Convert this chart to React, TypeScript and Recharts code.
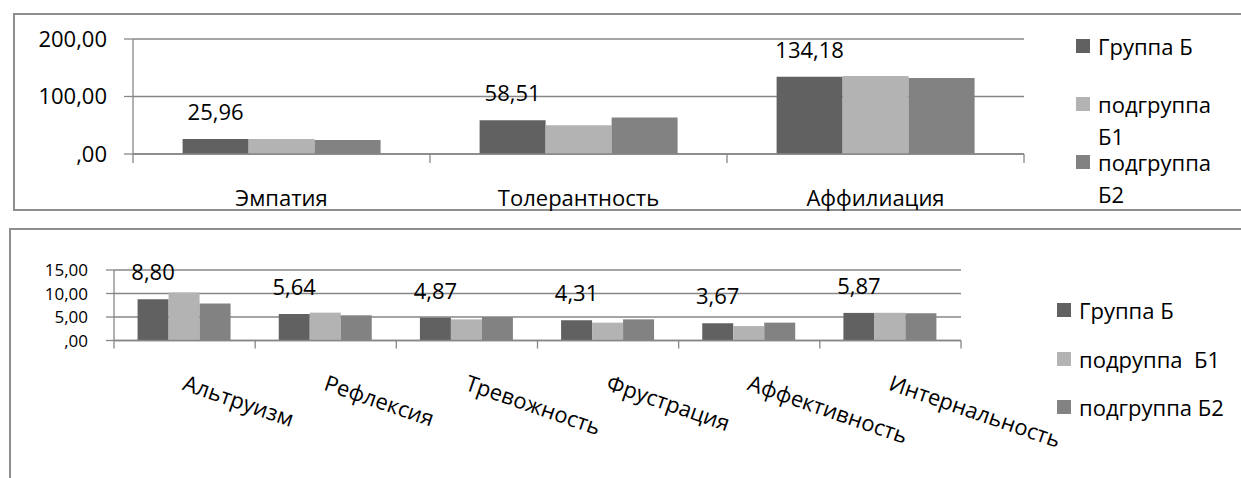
import React from 'react';
import { BarChart, Bar, XAxis, YAxis, CartesianGrid, LabelList, Legend } from 'recharts';

// upper chart
const topCategories = ['Эмпатия', 'Толерантность', 'Аффилиация'];
const topGroupB = [25.96, 58.51, 134.18];
const topSubgroupB1 = [26.2, 50.1, 135.6];
const topSubgroupB2 = [24.5, 63.5, 132.3];
const topSeriesNames = ['Группа Б', 'подгруппа Б1', 'подгруппа Б2'];
const topTicks = [0, 100, 200];

// lower chart
const bottomCategories = ['Альтруизм', 'Рефлексия', 'Тревожность', 'Фрустрация', 'Аффективность', 'Интернальность'];
const bottomGroupB = [8.8, 5.64, 4.87, 4.31, 3.67, 5.87];
const bottomSubgroupB1 = [10.2, 5.93, 4.5, 3.8, 3.07, 5.9];
const bottomSubgroupB2 = [7.86, 5.36, 5.0, 4.5, 3.8, 5.8];
const bottomSeriesNames = ['Группа Б', 'подруппа  Б1', 'подгруппа Б2'];
const bottomTicks = [0, 5, 10, 15];

const SERIES_KEYS = ['b', 'b1', 'b2'];
const COLORS = ['#616161', '#b3b3b3', '#828282'];
const GRID = '#878787';
const FONT = '"Open Sans", sans-serif';
const FS = 22;

const fmt = (v: number) => {
  const s = Number(v).toFixed(2).replace('.', ',');
  return s.startsWith('0,') ? s.slice(1) : s;
};

const topData = topCategories.map((name, i) => ({
  name,
  b: topGroupB[i],
  b1: topSubgroupB1[i],
  b2: topSubgroupB2[i],
}));

const bottomData = bottomCategories.map((name, i) => ({
  name,
  b: bottomGroupB[i],
  b1: bottomSubgroupB1[i],
  b2: bottomSubgroupB2[i],
}));

const W = 1241;
const TOP_H = 215;
const BOTTOM_H = 263;
const topMargin = { top: 39, right: 217, bottom: 0, left: 13 };
const topYWidth = 120;
const bottomMargin = { top: 55, right: 280, bottom: 0, left: 4 };
const bottomYWidth = 110;
const topStep = (W - topMargin.left - topYWidth - topMargin.right) / topCategories.length;
const bottomStep = (W - bottomMargin.left - bottomYWidth - bottomMargin.right) / bottomCategories.length;

const TopTick = (props: any) => {
  const { x, y, payload } = props;
  const half = topStep / 2;
  const last = payload.value === topCategories[topCategories.length - 1];
  return (
    <g>
      <line x1={x - half} y1={y} x2={x - half} y2={y + 9} stroke={GRID} strokeWidth={1.3} />
      {last && <line x1={x + half} y1={y} x2={x + half} y2={y + 9} stroke={GRID} strokeWidth={1.3} />}
      <text x={x} y={y + 52} textAnchor="middle" fontFamily={FONT} fontSize={FS} fill="#000">
        {payload.value}
      </text>
    </g>
  );
};

const BottomTick = (props: any) => {
  const { x, y, payload } = props;
  const half = bottomStep / 2;
  const last = payload.value === bottomCategories[bottomCategories.length - 1];
  return (
    <g>
      <line x1={x - half} y1={y} x2={x - half} y2={y + 8} stroke={GRID} strokeWidth={1.3} />
      {last && <line x1={x + half} y1={y} x2={x + half} y2={y + 8} stroke={GRID} strokeWidth={1.3} />}
      <text
        transform={`translate(${x - 3}, ${y + 49}) rotate(19)`}
        textAnchor="start"
        fontFamily={FONT}
        fontSize={FS}
        fill="#000"
      >
        {payload.value}
      </text>
    </g>
  );
};

// legend keeps the series order, not the alphabetical one
const makeLegend = (itemHeight: number, textWidth: number) => (props: any) => {
  const items = [...(props.payload || [])].sort(
    (a: any, b: any) => SERIES_KEYS.indexOf(a.dataKey) - SERIES_KEYS.indexOf(b.dataKey)
  );
  return (
    <div style={{ fontFamily: FONT, fontSize: FS, lineHeight: '32px', color: '#000' }}>
      {items.map((p: any) => (
        <div key={p.dataKey} style={{ height: itemHeight, display: 'flex', alignItems: 'flex-start' }}>
          <span style={{ width: 14, height: 14, background: p.color, marginTop: 9, marginRight: 8, flex: 'none' }} />
          <span style={{ width: textWidth, whiteSpace: 'pre-wrap' }}>{p.value}</span>
        </div>
      ))}
    </div>
  );
};

const TopLegend = makeLegend(58, 130);
const BottomLegend = makeLegend(48.5, 180);

export default function App() {
  return (
    <div style={{ position: 'absolute', left: 0, top: 0, width: W, height: 478, overflow: 'hidden', background: '#fff' }}>
      {/* frames around the two charts */}
      <div style={{ position: 'absolute', left: 13, top: 13, width: 1300, height: 198, border: '2px solid #8e8e8e', boxSizing: 'border-box' }} />
      <div style={{ position: 'absolute', left: 9, top: 228, width: 1300, height: 400, border: '2px solid #8e8e8e', boxSizing: 'border-box' }} />

      <div style={{ position: 'absolute', left: 0, top: 0 }}>
        <BarChart width={W} height={TOP_H} data={topData} margin={topMargin} barGap={0} barCategoryGap="16.7%">
          <CartesianGrid vertical={false} stroke={GRID} strokeWidth={1.3} />
          <XAxis
            dataKey="name"
            height={TOP_H - 154}
            interval={0}
            tickLine={false}
            tickSize={0}
            tickMargin={0}
            axisLine={{ stroke: GRID, strokeWidth: 1.3 }}
            tick={<TopTick />}
          />
          <YAxis
            width={topYWidth}
            domain={[0, 200]}
            ticks={topTicks}
            interval={0}
            tickFormatter={fmt}
            tickSize={9}
            tickMargin={17}
            tickLine={{ stroke: GRID, strokeWidth: 1.3 }}
            axisLine={{ stroke: GRID, strokeWidth: 1.3 }}
            tick={{ fontFamily: FONT, fontSize: FS, fill: '#000' }}
          />
          <Legend
            layout="vertical"
            align="center"
            verticalAlign="middle"
            wrapperStyle={{ left: 1076, top: 30, width: 165 }}
            content={<TopLegend />}
          />
          <Bar dataKey="b" name={topSeriesNames[0]} fill={COLORS[0]} isAnimationActive={false}>
            <LabelList dataKey="b" position="top" offset={19} formatter={fmt} fill="#000" style={{ fontFamily: FONT, fontSize: FS, fill: '#000' }} />
          </Bar>
          <Bar dataKey="b1" name={topSeriesNames[1]} fill={COLORS[1]} isAnimationActive={false} />
          <Bar dataKey="b2" name={topSeriesNames[2]} fill={COLORS[2]} isAnimationActive={false} />
        </BarChart>
      </div>

      <div style={{ position: 'absolute', left: 0, top: TOP_H }}>
        <BarChart width={W} height={BOTTOM_H} data={bottomData} margin={bottomMargin} barGap={0} barCategoryGap="16.7%">
          <CartesianGrid vertical={false} stroke={GRID} strokeWidth={1.3} />
          <XAxis
            dataKey="name"
            height={BOTTOM_H - 125.5}
            interval={0}
            tickLine={false}
            tickSize={0}
            tickMargin={0}
            axisLine={{ stroke: GRID, strokeWidth: 1.3 }}
            tick={<BottomTick />}
          />
          {/* ticks sit only 23px apart, so a smaller size keeps them from touching */}
          <YAxis
            width={bottomYWidth}
            domain={[0, 15]}
            ticks={bottomTicks}
            interval={0}
            tickFormatter={fmt}
            tickSize={8}
            tickMargin={18}
            tickLine={{ stroke: GRID, strokeWidth: 1.3 }}
            axisLine={{ stroke: GRID, strokeWidth: 1.3 }}
            tick={{ fontFamily: FONT, fontSize: 17, fill: '#000' }}
          />
          <Legend
            layout="vertical"
            align="center"
            verticalAlign="middle"
            wrapperStyle={{ left: 1057, top: 79, width: 184 }}
            content={<BottomLegend />}
          />
          <Bar dataKey="b" name={bottomSeriesNames[0]} fill={COLORS[0]} isAnimationActive={false}>
            <LabelList dataKey="b" position="top" offset={19} formatter={fmt} fill="#000" style={{ fontFamily: FONT, fontSize: FS, fill: '#000' }} />
          </Bar>
          <Bar dataKey="b1" name={bottomSeriesNames[1]} fill={COLORS[1]} isAnimationActive={false} />
          <Bar dataKey="b2" name={bottomSeriesNames[2]} fill={COLORS[2]} isAnimationActive={false} />
        </BarChart>
      </div>
    </div>
  );
}
